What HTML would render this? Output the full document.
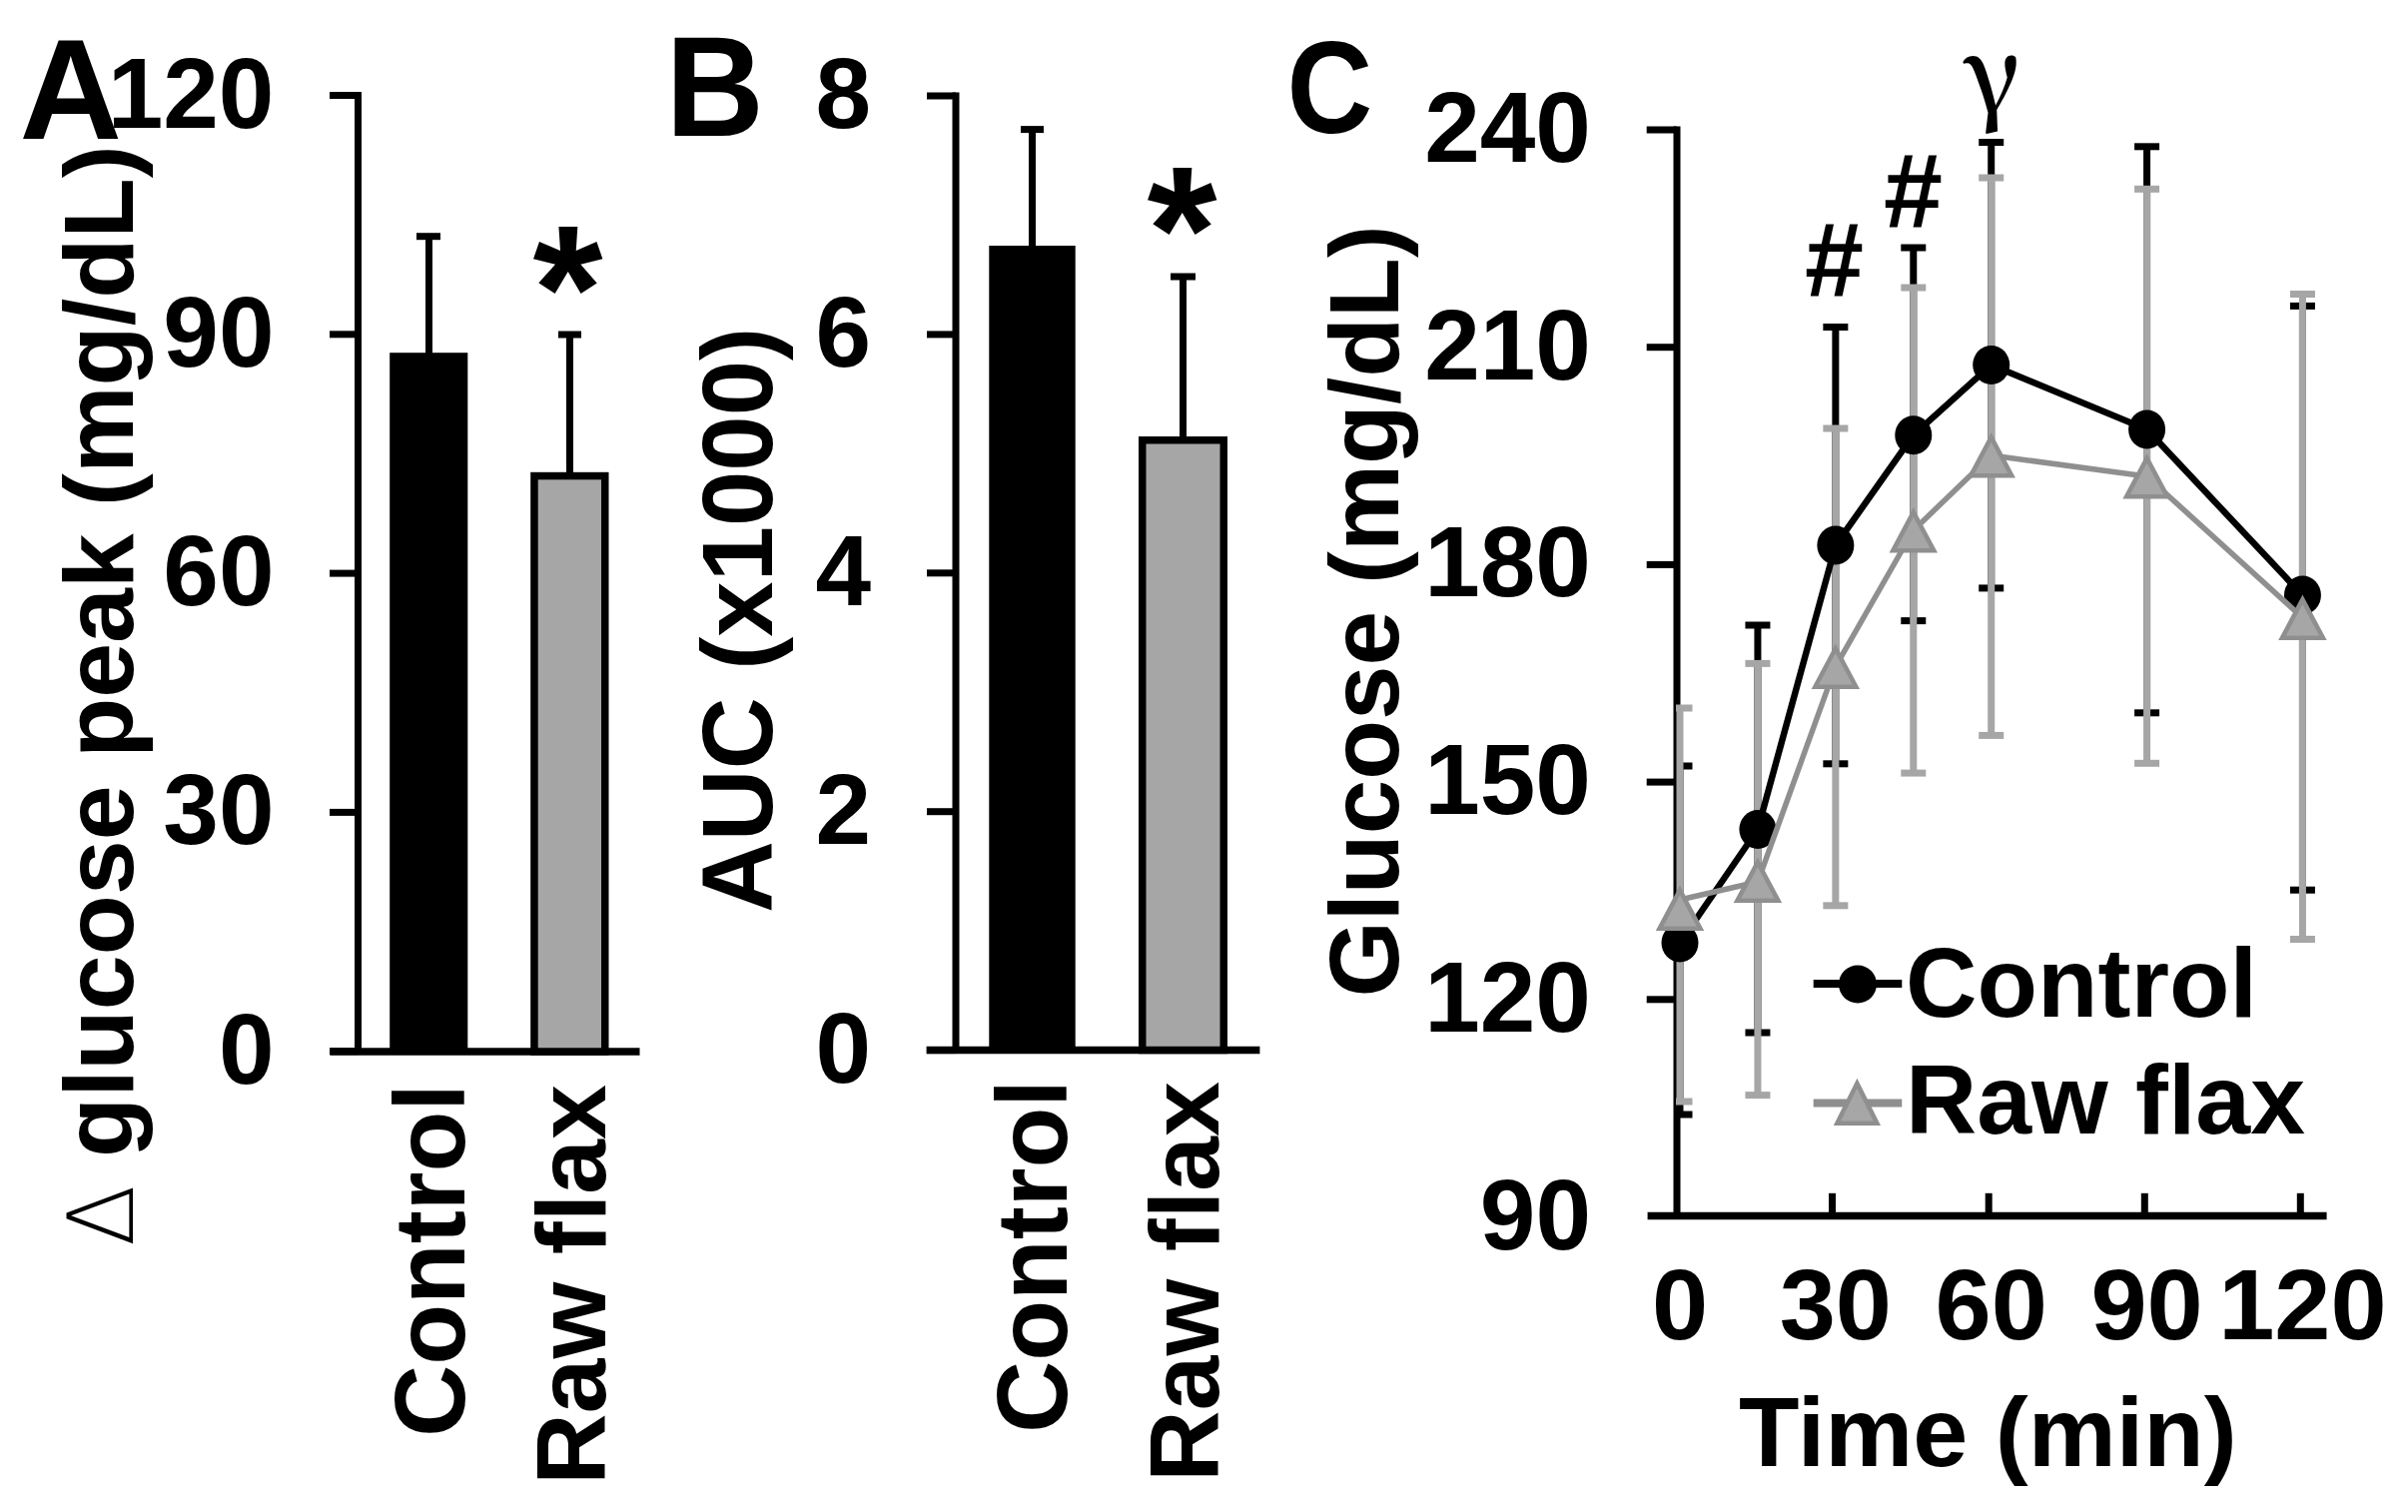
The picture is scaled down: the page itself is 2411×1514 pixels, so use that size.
<!DOCTYPE html>
<html><head><meta charset="utf-8"><title>Figure</title>
<style>html,body{margin:0;padding:0;background:#fff;}svg{display:block;filter:blur(0.6px);}</style></head>
<body>
<svg width="2411" height="1514" viewBox="0 0 2411 1514">
<rect width="2411" height="1514" fill="#fff"/>
<text x="19.5" y="138.5" font-size="142" font-weight="bold" font-family='"Liberation Sans", Arial, sans-serif' text-anchor="start" >A</text>
<text x="274.5" y="127.5" font-size="100" font-weight="bold" font-family='"Liberation Sans", Arial, sans-serif' text-anchor="end" >120</text>
<line x1="330" y1="95.5" x2="358.5" y2="95.5" stroke="#000" stroke-width="7" stroke-linecap="butt"/>
<text x="274.5" y="366.8" font-size="100" font-weight="bold" font-family='"Liberation Sans", Arial, sans-serif' text-anchor="end" >90</text>
<line x1="330" y1="334.8" x2="358.5" y2="334.8" stroke="#000" stroke-width="7" stroke-linecap="butt"/>
<text x="274.5" y="606.1" font-size="100" font-weight="bold" font-family='"Liberation Sans", Arial, sans-serif' text-anchor="end" >60</text>
<line x1="330" y1="574.1" x2="358.5" y2="574.1" stroke="#000" stroke-width="7" stroke-linecap="butt"/>
<text x="274.5" y="845.4" font-size="100" font-weight="bold" font-family='"Liberation Sans", Arial, sans-serif' text-anchor="end" >30</text>
<line x1="330" y1="813.4" x2="358.5" y2="813.4" stroke="#000" stroke-width="7" stroke-linecap="butt"/>
<text x="274.5" y="1084.7" font-size="100" font-weight="bold" font-family='"Liberation Sans", Arial, sans-serif' text-anchor="end" >0</text>
<line x1="330" y1="1052.7" x2="358.5" y2="1052.7" stroke="#000" stroke-width="7" stroke-linecap="butt"/>
<line x1="358.5" y1="92.0" x2="358.5" y2="1053" stroke="#000" stroke-width="7" stroke-linecap="butt"/>
<line x1="330.5" y1="1053" x2="640.5" y2="1053" stroke="#000" stroke-width="7.5" stroke-linecap="butt"/>
<rect x="390.2" y="353.2" width="78.1" height="699.8" fill="#000"/>
<line x1="429.5" y1="236.7" x2="429.5" y2="354" stroke="#000" stroke-width="7" stroke-linecap="butt"/>
<line x1="417" y1="236.7" x2="441" y2="236.7" stroke="#000" stroke-width="7" stroke-linecap="butt"/>
<rect x="534.95" y="476.55" width="70.8" height="576.45" fill="#a6a6a6" stroke="#000" stroke-width="7.5"/>
<line x1="570.5" y1="335" x2="570.5" y2="473" stroke="#000" stroke-width="7" stroke-linecap="butt"/>
<line x1="559" y1="335" x2="582" y2="335" stroke="#000" stroke-width="7" stroke-linecap="butt"/>
<text x="568.5" y="350.5" font-size="180" font-weight="bold" font-family='"Liberation Sans", Arial, sans-serif' text-anchor="middle" >*</text>
<text x="0" y="0" transform="translate(133,1248) rotate(-90)" font-size="90" font-weight="200" font-family='"DejaVu Sans", sans-serif' text-anchor="start" >Δ</text>
<text x="0" y="0" transform="translate(133,1159) rotate(-90)" font-size="98.6" font-weight="bold" font-family='"Liberation Sans", Arial, sans-serif' text-anchor="start" >glucose peak (mg/dL)</text>
<text x="0" y="0" transform="translate(465,1085) rotate(-90)" font-size="99.5" font-weight="bold" font-family='"Liberation Sans", Arial, sans-serif' text-anchor="end" >Control</text>
<text x="0" y="0" transform="translate(606,1086) rotate(-90)" font-size="98.8" font-weight="bold" font-family='"Liberation Sans", Arial, sans-serif' text-anchor="end" >Raw flax</text>
<g transform="translate(676,135.5) scale(0.96,1)">
<text x="-10" y="0" font-size="142" font-weight="bold" font-family='"Liberation Sans", Arial, sans-serif' text-anchor="start" >B</text>
</g>
<text x="872" y="128.0" font-size="100" font-weight="bold" font-family='"Liberation Sans", Arial, sans-serif' text-anchor="end" >8</text>
<line x1="928" y1="96.0" x2="957" y2="96.0" stroke="#000" stroke-width="7" stroke-linecap="butt"/>
<text x="872" y="366.9" font-size="100" font-weight="bold" font-family='"Liberation Sans", Arial, sans-serif' text-anchor="end" >6</text>
<line x1="928" y1="334.9" x2="957" y2="334.9" stroke="#000" stroke-width="7" stroke-linecap="butt"/>
<text x="872" y="605.8" font-size="100" font-weight="bold" font-family='"Liberation Sans", Arial, sans-serif' text-anchor="end" >4</text>
<line x1="928" y1="573.8" x2="957" y2="573.8" stroke="#000" stroke-width="7" stroke-linecap="butt"/>
<text x="872" y="844.7" font-size="100" font-weight="bold" font-family='"Liberation Sans", Arial, sans-serif' text-anchor="end" >2</text>
<line x1="928" y1="812.7" x2="957" y2="812.7" stroke="#000" stroke-width="7" stroke-linecap="butt"/>
<text x="872" y="1083.6" font-size="100" font-weight="bold" font-family='"Liberation Sans", Arial, sans-serif' text-anchor="end" >0</text>
<line x1="928" y1="1051.6" x2="957" y2="1051.6" stroke="#000" stroke-width="7" stroke-linecap="butt"/>
<line x1="957" y1="92.5" x2="957" y2="1051.5" stroke="#000" stroke-width="7" stroke-linecap="butt"/>
<line x1="927.6" y1="1051.5" x2="1261.4" y2="1051.5" stroke="#000" stroke-width="7.5" stroke-linecap="butt"/>
<rect x="990.3" y="246" width="86.4" height="805.5" fill="#000"/>
<line x1="1033.5" y1="129.6" x2="1033.5" y2="247" stroke="#000" stroke-width="7" stroke-linecap="butt"/>
<line x1="1022" y1="129.6" x2="1045" y2="129.6" stroke="#000" stroke-width="7" stroke-linecap="butt"/>
<rect x="1143.75" y="440.75" width="81.5" height="610.75" fill="#a6a6a6" stroke="#000" stroke-width="7.5"/>
<line x1="1184.5" y1="277" x2="1184.5" y2="438" stroke="#000" stroke-width="7" stroke-linecap="butt"/>
<line x1="1172" y1="277" x2="1197" y2="277" stroke="#000" stroke-width="7" stroke-linecap="butt"/>
<text x="1183.5" y="292" font-size="180" font-weight="bold" font-family='"Liberation Sans", Arial, sans-serif' text-anchor="middle" >*</text>
<text x="0" y="0" transform="translate(773,914) rotate(-90)" font-size="99.5" font-weight="bold" font-family='"Liberation Sans", Arial, sans-serif' text-anchor="start" >AUC (x1000)</text>
<text x="0" y="0" transform="translate(1068,1081) rotate(-90)" font-size="99.5" font-weight="bold" font-family='"Liberation Sans", Arial, sans-serif' text-anchor="end" >Control</text>
<text x="0" y="0" transform="translate(1220,1083) rotate(-90)" font-size="98.8" font-weight="bold" font-family='"Liberation Sans", Arial, sans-serif' text-anchor="end" >Raw flax</text>
<g transform="translate(1293,133) scale(0.9,1)">
<text x="-5" y="0" font-size="132" font-weight="bold" font-family='"Liberation Sans", Arial, sans-serif' text-anchor="start" >C</text>
</g>
<text x="1593" y="162.0" font-size="100" font-weight="bold" font-family='"Liberation Sans", Arial, sans-serif' text-anchor="end" >240</text>
<line x1="1648.7" y1="130.0" x2="1679" y2="130.0" stroke="#000" stroke-width="7" stroke-linecap="butt"/>
<text x="1593" y="379.7" font-size="100" font-weight="bold" font-family='"Liberation Sans", Arial, sans-serif' text-anchor="end" >210</text>
<line x1="1648.7" y1="347.7" x2="1679" y2="347.7" stroke="#000" stroke-width="7" stroke-linecap="butt"/>
<text x="1593" y="597.4" font-size="100" font-weight="bold" font-family='"Liberation Sans", Arial, sans-serif' text-anchor="end" >180</text>
<line x1="1648.7" y1="565.4" x2="1679" y2="565.4" stroke="#000" stroke-width="7" stroke-linecap="butt"/>
<text x="1593" y="815.1" font-size="100" font-weight="bold" font-family='"Liberation Sans", Arial, sans-serif' text-anchor="end" >150</text>
<line x1="1648.7" y1="783.1" x2="1679" y2="783.1" stroke="#000" stroke-width="7" stroke-linecap="butt"/>
<text x="1593" y="1032.8" font-size="100" font-weight="bold" font-family='"Liberation Sans", Arial, sans-serif' text-anchor="end" >120</text>
<line x1="1648.7" y1="1000.8" x2="1679" y2="1000.8" stroke="#000" stroke-width="7" stroke-linecap="butt"/>
<text x="1593" y="1250.5" font-size="100" font-weight="bold" font-family='"Liberation Sans", Arial, sans-serif' text-anchor="end" >90</text>
<line x1="1679" y1="126.5" x2="1679" y2="1218" stroke="#000" stroke-width="7" stroke-linecap="butt"/>
<line x1="1649.6" y1="1217.5" x2="2329.6" y2="1217.5" stroke="#000" stroke-width="7.5" stroke-linecap="butt"/>
<line x1="1834.5" y1="1194.8" x2="1834.5" y2="1217" stroke="#000" stroke-width="7" stroke-linecap="butt"/>
<line x1="1991.2" y1="1194.8" x2="1991.2" y2="1217" stroke="#000" stroke-width="7" stroke-linecap="butt"/>
<line x1="2147.3" y1="1194.8" x2="2147.3" y2="1217" stroke="#000" stroke-width="7" stroke-linecap="butt"/>
<line x1="2303.3" y1="1194.8" x2="2303.3" y2="1217" stroke="#000" stroke-width="7" stroke-linecap="butt"/>
<text x="1682.0" y="1341" font-size="101" font-weight="bold" font-family='"Liberation Sans", Arial, sans-serif' text-anchor="middle" >0</text>
<text x="1837.86" y="1341" font-size="101" font-weight="bold" font-family='"Liberation Sans", Arial, sans-serif' text-anchor="middle" >30</text>
<text x="1993.72" y="1341" font-size="101" font-weight="bold" font-family='"Liberation Sans", Arial, sans-serif' text-anchor="middle" >60</text>
<text x="2149.58" y="1341" font-size="101" font-weight="bold" font-family='"Liberation Sans", Arial, sans-serif' text-anchor="middle" >90</text>
<text x="2305.44" y="1341" font-size="101" font-weight="bold" font-family='"Liberation Sans", Arial, sans-serif' text-anchor="middle" >120</text>
<text x="1990.4" y="1467.5" font-size="99" font-weight="bold" font-family='"Liberation Sans", Arial, sans-serif' text-anchor="middle" >Time (min)</text>
<text x="0" y="0" transform="translate(1400,998.6) rotate(-90)" font-size="98" font-weight="bold" font-family='"Liberation Sans", Arial, sans-serif' text-anchor="start" >Glucose (mg/dL)</text>
<defs><clipPath id="plotC"><rect x="1678" y="0" width="800" height="1214"/></clipPath></defs>
<g clip-path="url(#plotC)">
<line x1="1682.0" y1="767" x2="1682.0" y2="1116" stroke="#000" stroke-width="7" stroke-linecap="butt"/>
<line x1="1669.5" y1="767" x2="1694.5" y2="767" stroke="#000" stroke-width="7" stroke-linecap="butt"/>
<line x1="1669.5" y1="1116" x2="1694.5" y2="1116" stroke="#000" stroke-width="7" stroke-linecap="butt"/>
<line x1="1759.93" y1="626" x2="1759.93" y2="1034" stroke="#000" stroke-width="7" stroke-linecap="butt"/>
<line x1="1747.43" y1="626" x2="1772.43" y2="626" stroke="#000" stroke-width="7" stroke-linecap="butt"/>
<line x1="1747.43" y1="1034" x2="1772.43" y2="1034" stroke="#000" stroke-width="7" stroke-linecap="butt"/>
<line x1="1837.86" y1="327.5" x2="1837.86" y2="764.8" stroke="#000" stroke-width="7" stroke-linecap="butt"/>
<line x1="1825.36" y1="327.5" x2="1850.36" y2="327.5" stroke="#000" stroke-width="7" stroke-linecap="butt"/>
<line x1="1825.36" y1="764.8" x2="1850.36" y2="764.8" stroke="#000" stroke-width="7" stroke-linecap="butt"/>
<line x1="1915.79" y1="248" x2="1915.79" y2="621.6" stroke="#000" stroke-width="7" stroke-linecap="butt"/>
<line x1="1903.29" y1="248" x2="1928.29" y2="248" stroke="#000" stroke-width="7" stroke-linecap="butt"/>
<line x1="1903.29" y1="621.6" x2="1928.29" y2="621.6" stroke="#000" stroke-width="7" stroke-linecap="butt"/>
<line x1="1993.72" y1="142.5" x2="1993.72" y2="588.9" stroke="#000" stroke-width="7" stroke-linecap="butt"/>
<line x1="1981.22" y1="142.5" x2="2006.22" y2="142.5" stroke="#000" stroke-width="7" stroke-linecap="butt"/>
<line x1="1981.22" y1="588.9" x2="2006.22" y2="588.9" stroke="#000" stroke-width="7" stroke-linecap="butt"/>
<line x1="2149.58" y1="146.8" x2="2149.58" y2="713.8" stroke="#000" stroke-width="7" stroke-linecap="butt"/>
<line x1="2137.08" y1="146.8" x2="2162.08" y2="146.8" stroke="#000" stroke-width="7" stroke-linecap="butt"/>
<line x1="2137.08" y1="713.8" x2="2162.08" y2="713.8" stroke="#000" stroke-width="7" stroke-linecap="butt"/>
<line x1="2305.44" y1="306.4" x2="2305.44" y2="891.2" stroke="#000" stroke-width="7" stroke-linecap="butt"/>
<line x1="2292.94" y1="306.4" x2="2317.94" y2="306.4" stroke="#000" stroke-width="7" stroke-linecap="butt"/>
<line x1="2292.94" y1="891.2" x2="2317.94" y2="891.2" stroke="#000" stroke-width="7" stroke-linecap="butt"/>
<line x1="1682.0" y1="709" x2="1682.0" y2="1103" stroke="#a6a6a6" stroke-width="7" stroke-linecap="butt"/>
<line x1="1669.5" y1="709" x2="1694.5" y2="709" stroke="#a6a6a6" stroke-width="7" stroke-linecap="butt"/>
<line x1="1669.5" y1="1103" x2="1694.5" y2="1103" stroke="#a6a6a6" stroke-width="7" stroke-linecap="butt"/>
<line x1="1759.93" y1="664.4" x2="1759.93" y2="1096.6" stroke="#a6a6a6" stroke-width="7" stroke-linecap="butt"/>
<line x1="1747.43" y1="664.4" x2="1772.43" y2="664.4" stroke="#a6a6a6" stroke-width="7" stroke-linecap="butt"/>
<line x1="1747.43" y1="1096.6" x2="1772.43" y2="1096.6" stroke="#a6a6a6" stroke-width="7" stroke-linecap="butt"/>
<line x1="1837.86" y1="429" x2="1837.86" y2="906.8" stroke="#a6a6a6" stroke-width="7" stroke-linecap="butt"/>
<line x1="1825.36" y1="429" x2="1850.36" y2="429" stroke="#a6a6a6" stroke-width="7" stroke-linecap="butt"/>
<line x1="1825.36" y1="906.8" x2="1850.36" y2="906.8" stroke="#a6a6a6" stroke-width="7" stroke-linecap="butt"/>
<line x1="1915.79" y1="288" x2="1915.79" y2="774.1" stroke="#a6a6a6" stroke-width="7" stroke-linecap="butt"/>
<line x1="1903.29" y1="288" x2="1928.29" y2="288" stroke="#a6a6a6" stroke-width="7" stroke-linecap="butt"/>
<line x1="1903.29" y1="774.1" x2="1928.29" y2="774.1" stroke="#a6a6a6" stroke-width="7" stroke-linecap="butt"/>
<line x1="1993.72" y1="178" x2="1993.72" y2="736.4" stroke="#a6a6a6" stroke-width="7" stroke-linecap="butt"/>
<line x1="1981.22" y1="178" x2="2006.22" y2="178" stroke="#a6a6a6" stroke-width="7" stroke-linecap="butt"/>
<line x1="1981.22" y1="736.4" x2="2006.22" y2="736.4" stroke="#a6a6a6" stroke-width="7" stroke-linecap="butt"/>
<line x1="2149.58" y1="189.3" x2="2149.58" y2="764.3" stroke="#a6a6a6" stroke-width="7" stroke-linecap="butt"/>
<line x1="2137.08" y1="189.3" x2="2162.08" y2="189.3" stroke="#a6a6a6" stroke-width="7" stroke-linecap="butt"/>
<line x1="2137.08" y1="764.3" x2="2162.08" y2="764.3" stroke="#a6a6a6" stroke-width="7" stroke-linecap="butt"/>
<line x1="2305.44" y1="294.5" x2="2305.44" y2="940.5" stroke="#a6a6a6" stroke-width="7" stroke-linecap="butt"/>
<line x1="2292.94" y1="294.5" x2="2317.94" y2="294.5" stroke="#a6a6a6" stroke-width="7" stroke-linecap="butt"/>
<line x1="2292.94" y1="940.5" x2="2317.94" y2="940.5" stroke="#a6a6a6" stroke-width="7" stroke-linecap="butt"/>
</g>
<polyline points="1682.0,944 1759.93,830.5 1837.86,546 1915.79,435.7 1993.72,365.4 2149.58,430 2305.44,596" fill="none" stroke="#000" stroke-width="6.5" stroke-linejoin="round"/>
<ellipse cx="1682.0" cy="944" rx="18.5" ry="19.5" fill="#000"/>
<ellipse cx="1759.93" cy="830.5" rx="18.5" ry="19.5" fill="#000"/>
<ellipse cx="1837.86" cy="546" rx="18.5" ry="19.5" fill="#000"/>
<ellipse cx="1915.79" cy="435.7" rx="18.5" ry="19.5" fill="#000"/>
<ellipse cx="1993.72" cy="365.4" rx="18.5" ry="19.5" fill="#000"/>
<ellipse cx="2149.58" cy="430" rx="18.5" ry="19.5" fill="#000"/>
<ellipse cx="2305.44" cy="596" rx="18.5" ry="19.5" fill="#000"/>
<polyline points="1682.0,901 1759.93,883 1837.86,667.4 1915.79,531 1993.72,456 2149.58,477 2305.44,618.5" fill="none" stroke="#8f8f8f" stroke-width="5.5" stroke-linejoin="round"/>
<polygon points="1682.0,891.35 1702.5,929.85 1661.5,929.85" fill="#a6a6a6" stroke="#8f8f8f" stroke-width="4.5" stroke-linejoin="miter"/>
<polygon points="1759.93,863.35 1780.43,901.85 1739.43,901.85" fill="#a6a6a6" stroke="#8f8f8f" stroke-width="4.5" stroke-linejoin="miter"/>
<polygon points="1837.86,649.25 1858.36,687.75 1817.36,687.75" fill="#a6a6a6" stroke="#8f8f8f" stroke-width="4.5" stroke-linejoin="miter"/>
<polygon points="1915.79,512.85 1936.29,551.35 1895.29,551.35" fill="#a6a6a6" stroke="#8f8f8f" stroke-width="4.5" stroke-linejoin="miter"/>
<polygon points="1993.72,437.85 2014.22,476.35 1973.22,476.35" fill="#a6a6a6" stroke="#8f8f8f" stroke-width="4.5" stroke-linejoin="miter"/>
<polygon points="2149.58,458.85 2170.08,497.35 2129.08,497.35" fill="#a6a6a6" stroke="#8f8f8f" stroke-width="4.5" stroke-linejoin="miter"/>
<polygon points="2305.44,600.35 2325.94,638.85 2284.94,638.85" fill="#a6a6a6" stroke="#8f8f8f" stroke-width="4.5" stroke-linejoin="miter"/>
<line x1="1815.7" y1="985" x2="1904.3" y2="985" stroke="#000" stroke-width="8" stroke-linecap="butt"/>
<circle cx="1860" cy="985.5" r="19" fill="#000"/>
<text x="1908" y="1017.5" font-size="99" font-weight="bold" font-family='"Liberation Sans", Arial, sans-serif' text-anchor="start" >Control</text>
<line x1="1815.7" y1="1104.5" x2="1904.3" y2="1104.5" stroke="#8f8f8f" stroke-width="8" stroke-linecap="butt"/>
<polygon points="1859.4,1084.8 1879.4,1124.8 1839.4,1124.8" fill="#a6a6a6" stroke="#8f8f8f" stroke-width="4.5" stroke-linejoin="miter"/>
<text x="1908" y="1135.2" font-size="98.6" font-weight="bold" font-family='"Liberation Sans", Arial, sans-serif' text-anchor="start" >Raw flax</text>
<text x="1836.5" y="297" font-size="106" font-weight="bold" font-family='"Liberation Sans", Arial, sans-serif' text-anchor="middle" >#</text>
<text x="1915.4" y="227.5" font-size="106" font-weight="bold" font-family='"Liberation Sans", Arial, sans-serif' text-anchor="middle" >#</text>
<text x="1994.5" y="112" font-size="104" font-weight="600" font-family='"Noto Serif CJK SC", serif' text-anchor="middle" >γ</text>
</svg>
</body></html>
